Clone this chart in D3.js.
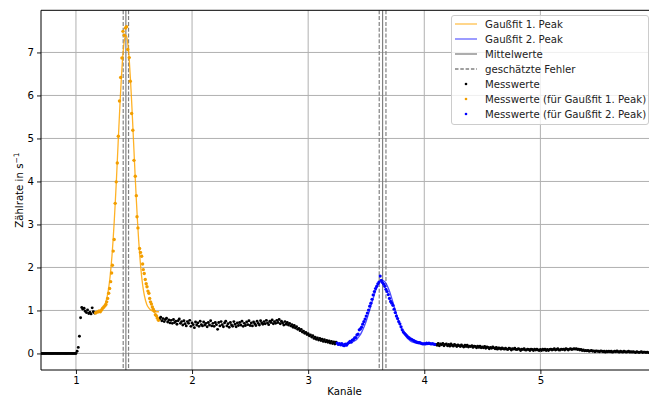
<!DOCTYPE html>
<html>
<head>
<meta charset="utf-8">
<script src="https://cdn.jsdelivr.net/npm/d3@7"></script>
<style>
  body { margin: 0; background: #fff; }
  svg { display: block; font-family: "DejaVu Sans", sans-serif; }
</style>
</head>
<body>
<svg id="chart" width="649" height="398"></svg>
<script>
// channel step of the measured points
const step = 0.01;

// Messwerte (black), three runs
const black1Start = 0.70;
const black1 = [0,0,0,0,0,0,0,0,0,0, 0,0,0,0,0,0,0,0,0,0, 0,0,0,0,0,0,0,0,0,0, 0,
  0.05,0.14,0.40,0.83,1.07,1.03,1.05,0.98,0.95,1.01,0.93,0.96,0.92,1.06,0.97,0.94];
const black2Start = 1.72;
const black2 = [
  0.80,0.84,0.76,0.81,0.74,0.79,0.82,0.73,0.78,0.71,
  0.77,0.70,0.79,0.72,0.75,0.68,0.76,0.80,0.70,0.74,
  0.66,0.76,0.69,0.64,0.74,0.70,0.77,0.63,0.71,0.67,
  0.60,0.73,0.66,0.71,0.63,0.75,0.67,0.64,0.73,0.66,
  0.70,0.62,0.72,0.66,0.76,0.64,0.70,0.63,0.72,0.67,
  0.56,0.72,0.64,0.74,0.67,0.62,0.71,0.75,0.64,0.69,
  0.61,0.72,0.66,0.63,0.74,0.68,0.62,0.71,0.65,0.72,
  0.66,0.75,0.63,0.70,0.65,0.73,0.67,0.76,0.65,0.71,
  0.64,0.73,0.69,0.65,0.75,0.70,0.66,0.76,0.71,0.68,
  0.74,0.69,0.77,0.71,0.67,0.75,0.72,0.78,0.69,0.74,
  0.70,0.77,0.72,0.79,0.69,0.75,0.71,0.66,0.74,0.68,
  0.72,0.66,0.70,0.64,0.67,0.61,0.65,0.59,0.62,0.56,
  0.58,0.53,0.56,0.50,0.52,0.47,0.49,0.44,0.46,0.41,
  0.43,0.38,0.41,0.35,0.38,0.33,0.36,0.31,0.35,0.30,
  0.33,0.28,0.32,0.27,0.30,0.26,0.29,0.24,0.28,0.23,
  0.27,0.22,0.26];
const black3Start = 4.10;
const black3 = [
  0.21,0.19,0.23,0.18,0.22,0.20,0.23,0.18,0.21,0.22,
  0.18,0.21,0.17,0.22,0.19,0.17,0.21,0.19,0.16,0.20,
  0.18,0.16,0.20,0.17,0.15,0.19,0.16,0.19,0.15,0.17,
  0.16,0.18,0.14,0.17,0.16,0.13,0.17,0.14,0.17,0.13,
  0.15,0.13,0.16,0.12,0.15,0.14,0.11,0.14,0.12,0.15,
  0.13,0.11,0.14,0.10,0.13,0.12,0.10,0.13,0.11,0.10,
  0.12,0.10,0.09,0.12,0.11,0.08,0.11,0.10,0.12,0.09,
  0.09,0.11,0.10,0.07,0.10,0.09,0.11,0.08,0.08,0.10,
  0.09,0.07,0.10,0.09,0.07,0.10,0.08,0.10,0.08,0.07,
  0.09,0.07,0.10,0.08,0.10,0.07,0.09,0.07,0.09,0.10,
  0.08,0.09,0.11,0.08,0.09,0.11,0.08,0.08,0.10,0.09,
  0.10,0.08,0.11,0.10,0.08,0.10,0.11,0.09,0.10,0.11,
  0.10,0.11,0.09,0.10,0.08,0.09,0.07,0.08,0.06,0.07,
  0.06,0.07,0.05,0.06,0.07,0.05,0.06,0.04,0.06,0.05,
  0.05,0.04,0.06,0.05,0.04,0.05,0.03,0.05,0.04,0.05,
  0.04,0.05,0.03,0.04,0.05,0.04,0.06,0.04,0.03,0.05,
  0.04,0.03,0.05,0.04,0.03,0.04,0.05,0.03,0.04,0.03,
  0.04,0.03,0.02,0.04,0.03,0.02,0.03,0.04,0.02,0.03,
  0.03,0.02,0.03,0.02];

// Messwerte (für Gaußfit 1. Peak)
const orangeX = [1.169,1.180,1.192,1.200,1.210,1.221,1.230,1.240,1.250,1.258,1.265,1.273,1.282,1.290,
  1.299,1.307,1.314,1.321,1.329,1.338,1.347,1.356,1.365,1.375,1.385,1.396,1.405,1.416,1.427,1.436,
  1.447,1.459,1.468,1.480,1.490,1.500,1.511,1.520,1.526,1.534,1.548,1.556,1.566,1.574,1.580,1.588,
  1.597,1.605,1.612,1.620,1.628,1.635,1.642,1.650,1.658,1.666,1.675,1.684,1.694,1.702,1.711];
const orangeY = [0.94,0.96,0.97,0.99,0.97,1.01,1.05,1.08,1.11,1.14,1.20,1.28,1.40,1.51,
  1.67,1.87,2.05,2.38,2.65,3.49,3.99,4.43,5.05,5.87,6.42,6.87,7.49,7.40,7.57,7.60,
  7.07,6.88,6.33,5.58,5.19,4.49,4.12,3.67,3.18,2.92,2.44,2.35,2.26,2.08,1.95,1.86,
  1.72,1.62,1.55,1.45,1.40,1.28,1.20,1.15,1.08,1.03,0.98,0.90,0.87,0.82,0.77];

// Messwerte (für Gaußfit 2. Peak)
const blueStart = 3.25;
const blueVals = [0.24,0.21,0.23,0.20,0.23,0.19,0.18,0.22,0.19,0.23,
  0.25,0.28,0.26,0.31,0.32,0.36,0.37,0.43,0.45,0.55,
  0.57,0.61,0.68,0.74,0.80,0.87,0.94,1.01,1.10,1.17,
  1.26,1.36,1.44,1.51,1.56,1.62,1.66,1.80,1.70,1.65,
  1.61,1.56,1.49,1.44,1.37,1.28,1.21,1.17,1.12,1.03,
  0.95,0.87,0.81,0.74,0.69,0.62,0.55,0.50,0.47,0.44,
  0.41,0.38,0.36,0.34,0.33,0.31,0.30,0.28,0.27,0.26,
  0.25,0.25,0.24,0.23,0.22,0.23,0.22,0.24,0.23,0.24,
  0.23,0.22,0.23,0.22,0.21];

// fit curves
const fit1X = [1.165,1.19,1.21,1.23,1.25,1.27,1.28,1.29,1.30,1.31,1.32,1.33,1.34,1.35,1.36,1.37,1.38,1.39,
  1.40,1.41,1.42,1.43,1.44,1.45,1.46,1.47,1.48,1.49,1.50,1.51,1.52,1.53,1.54,1.55,1.56,1.57,1.58,1.59,
  1.61,1.63,1.65,1.67,1.69,1.715];
const fit1Y = [0.97,0.97,1.00,1.05,1.14,1.34,1.49,1.69,1.95,2.26,2.64,3.08,3.58,4.12,4.70,5.28,5.84,6.35,
  6.79,7.12,7.33,7.40,7.33,7.12,6.79,6.35,5.84,5.28,4.70,4.12,3.58,3.08,2.64,2.26,1.95,1.69,1.49,1.34,
  1.14,1.05,1.00,0.98,0.97,0.97];
const fit2X = [3.245,3.30,3.36,3.40,3.42,3.44,3.46,3.48,3.50,3.52,3.54,3.56,3.58,3.60,3.62,3.64,3.66,
  3.68,3.70,3.72,3.74,3.76,3.78,3.80,3.82,3.84,3.86,3.88,3.92,3.96,4.00,4.09];
const fit2Y = [0.22,0.22,0.245,0.29,0.33,0.40,0.49,0.61,0.75,0.92,1.10,1.28,1.45,1.58,1.67,1.70,1.67,
  1.58,1.45,1.28,1.10,0.92,0.75,0.61,0.49,0.40,0.34,0.29,0.245,0.227,0.22,0.22];

// Mittelwerte and geschätzte Fehler
const means = [1.430, 3.641];
const errors = [0.023, 0.029];

const xTicks = [1, 2, 3, 4, 5];
const yTicks = [0, 1, 2, 3, 4, 5, 6, 7];

const fs = 10.2;
const svg = d3.select("#chart");
const pLeft = 41, pRight = 653.7, pTop = 10.3, pBottom = 370;

const x = d3.scaleLinear().domain([0.699, 5.976]).range([pLeft, pRight]);
const y = d3.scaleLinear().domain([-0.385, 7.98]).range([pBottom, pTop]);

const run = (start, vals) => vals.map((v, i) => ({ x: start + i * step, y: v }));
const blackPts = run(black1Start, black1).concat(run(black2Start, black2), run(black3Start, black3));
const bluePts = run(blueStart, blueVals);
const orangePts = orangeX.map((v, i) => ({ x: v, y: orangeY[i] }));
const fit1 = fit1X.map((v, i) => ({ x: v, y: fit1Y[i] }));
const fit2 = fit2X.map((v, i) => ({ x: v, y: fit2Y[i] }));

svg.append("defs").append("clipPath").attr("id", "clip")
  .append("rect").attr("x", pLeft).attr("y", pTop).attr("width", pRight - pLeft).attr("height", pBottom - pTop);

// grid
const grid = svg.append("g");
grid.selectAll(".gx").data(xTicks).join("line")
  .attr("x1", d => x(d)).attr("x2", d => x(d)).attr("y1", pTop).attr("y2", pBottom)
  .attr("stroke", "#b0b0b0").attr("stroke-width", 1);
grid.selectAll(".gy").data(yTicks).join("line")
  .attr("x1", pLeft).attr("x2", pRight).attr("y1", d => y(d)).attr("y2", d => y(d))
  .attr("stroke", "#b0b0b0").attr("stroke-width", 1);

const plot = svg.append("g").attr("clip-path", "url(#clip)");

// mean and error lines
plot.selectAll(".mean").data(means).join("line")
  .attr("x1", d => x(d)).attr("x2", d => x(d)).attr("y1", pTop).attr("y2", pBottom)
  .attr("stroke", "#808080").attr("stroke-width", 1.2);
const errLines = [];
means.forEach((m, i) => { errLines.push(m - errors[i], m + errors[i]); });
plot.selectAll(".err").data(errLines).join("line")
  .attr("x1", d => x(d)).attr("x2", d => x(d)).attr("y1", pTop).attr("y2", pBottom)
  .attr("stroke", "#808080").attr("stroke-width", 1.2).attr("stroke-dasharray", "4,1.8");

// fit lines
const line = d3.line().x(d => x(d.x)).y(d => y(d.y)).curve(d3.curveMonotoneX);
plot.append("path").datum(fit1).attr("d", line)
  .attr("fill", "none").attr("stroke", "orange").attr("stroke-width", 1.3).attr("stroke-opacity", 0.85);
plot.append("path").datum(fit2).attr("d", line)
  .attr("fill", "none").attr("stroke", "blue").attr("stroke-width", 1.3).attr("stroke-opacity", 0.7);

// dots
plot.selectAll(".bk").data(blackPts).join("circle")
  .attr("cx", d => x(d.x)).attr("cy", d => y(d.y)).attr("r", 1.45).attr("fill", "#000");
plot.selectAll(".or").data(orangePts).join("circle")
  .attr("cx", d => x(d.x)).attr("cy", d => y(d.y)).attr("r", 1.7).attr("fill", "#f29e00");
plot.selectAll(".bl").data(bluePts).join("circle")
  .attr("cx", d => x(d.x)).attr("cy", d => y(d.y)).attr("r", 1.6).attr("fill", "#0000ff");

// axes
const xAxis = svg.append("g").attr("transform", `translate(0,${pBottom})`)
  .call(d3.axisBottom(x).tickValues(xTicks).tickFormat(d3.format("d")).tickSize(4).tickPadding(3));
const yAxis = svg.append("g").attr("transform", `translate(${pLeft},0)`)
  .call(d3.axisLeft(y).tickValues(yTicks).tickFormat(d3.format("d")).tickSize(4).tickPadding(3));
[xAxis, yAxis].forEach(a => {
  a.select(".domain").remove();
  a.selectAll("text").attr("font-size", fs).attr("fill", "#000").attr("font-family", "DejaVu Sans");
  a.selectAll(".tick line").attr("stroke", "#000").attr("stroke-width", 0.9);
});

// spines
svg.append("line").attr("x1", pLeft).attr("x2", pLeft).attr("y1", pTop).attr("y2", pBottom)
  .attr("stroke", "#000").attr("stroke-width", 1);
svg.append("line").attr("x1", pLeft).attr("x2", pRight).attr("y1", pBottom).attr("y2", pBottom)
  .attr("stroke", "#000").attr("stroke-width", 1);
svg.append("line").attr("x1", pLeft).attr("x2", pRight).attr("y1", pTop).attr("y2", pTop)
  .attr("stroke", "#000").attr("stroke-width", 1);
svg.append("line").attr("x1", pRight).attr("x2", pRight).attr("y1", pTop).attr("y2", pBottom)
  .attr("stroke", "#000").attr("stroke-width", 1);

// axis labels
svg.append("text").attr("x", 344.5).attr("y", 395)
  .attr("text-anchor", "middle").attr("font-size", fs).text("Kanäle");
const yl = svg.append("text").attr("transform", `translate(23,${(pTop + pBottom) / 2}) rotate(-90)`)
  .attr("text-anchor", "middle").attr("font-size", fs);
yl.append("tspan").text("Zählrate in s");
yl.append("tspan").attr("dy", -4.5).attr("font-size", 7.5).text("−1");

// legend
const legendItems = [
  { label: "Gaußfit 1. Peak", type: "line", color: "orange", opacity: 0.7 },
  { label: "Gaußfit 2. Peak", type: "line", color: "blue", opacity: 0.6 },
  { label: "Mittelwerte", type: "line", color: "#808080", opacity: 1 },
  { label: "geschätzte Fehler", type: "dash", color: "#808080", opacity: 1 },
  { label: "Messwerte", type: "dot", color: "#000" },
  { label: "Messwerte (für Gaußfit 1. Peak)", type: "dot", color: "#f29e00" },
  { label: "Messwerte (für Gaußfit 2. Peak)", type: "dot", color: "#0000ff" }
];
const lg = svg.append("g");
lg.append("rect").attr("x", 451.5).attr("y", 15.5).attr("width", 197).attr("height", 109)
  .attr("rx", 2.5).attr("fill", "#fff").attr("fill-opacity", 0.8).attr("stroke", "#cccccc");
const rows = lg.selectAll(".row").data(legendItems).join("g")
  .attr("transform", (d, i) => `translate(0,${24 + i * 15})`);
rows.filter(d => d.type !== "dot").append("line")
  .attr("x1", 455).attr("x2", 477).attr("y1", 0).attr("y2", 0)
  .attr("stroke", d => d.color).attr("stroke-opacity", d => d.opacity).attr("stroke-width", 1.3)
  .attr("stroke-dasharray", d => d.type === "dash" ? "3.5,1.8" : null);
rows.filter(d => d.type === "dot").append("circle")
  .attr("cx", 466).attr("cy", 0).attr("r", 1.3).attr("fill", d => d.color);
rows.append("text").attr("x", 485).attr("y", 3.7).attr("font-size", fs).attr("fill", "#222")
  .text(d => d.label);
</script>
</body>
</html>
